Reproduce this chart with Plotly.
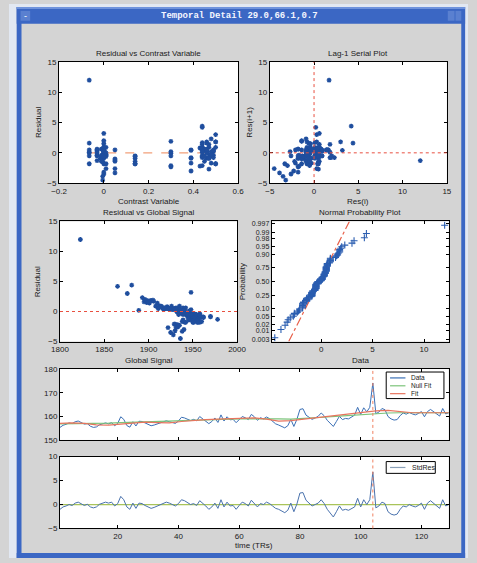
import numpy as np
import plotly.graph_objects as go
from statistics import NormalDist

# ---------------- data ----------------
t = list(range(1, 130))

std_res = [
    -1.0, -0.5, -0.3, 0.0, -0.2, 0.3, 0.5, 0.2, -0.2, 0.05,
    -0.5, -0.7, -0.5, 0.05, 0.3, 0.5, 0.3, 0.5, -0.3, 0.2,
    1.7, 1.0, -0.5, -1.0, 0.3, -0.8, 0.3, 0.2, -0.2, -0.5,
    -0.8, -0.6, -0.3, -0.05, 0.2, 0.5, 0.3, 0.05, -0.3, 0.2,
    1.0, 0.8, 0.3, 0.0, 0.2, -0.2, 0.8, 0.3, -0.3, -1.0,
    -0.5, 0.3, -0.8, 1.0, -0.5, 0.5, -0.3, -0.2, -1.0, -0.2,
    0.5, 0.2, -0.3, 0.9, 0.3, -0.5, 0.2, 0.0, 0.5, 0.2,
    -0.3, -0.8, -1.0, -1.3, -1.7, -1.2, 0.3, -1.5, 0.1, 2.4,
    2.5, 0.9, 0.3, -0.3, 0.0, 0.3, 1.0, 0.2, -1.0, -1.8,
    -2.6, -1.5, -0.3, -1.2, -1.0, -1.2, -0.8, -0.5, 1.3, -0.5,
    1.0, 0.0, 1.0, 6.8, -0.7, -0.3, 0.5, 0.2, -1.5, -2.0,
    -2.2, -2.0, -1.0, -0.3, -0.5, 0.0, -0.3, -0.5, -0.2, 0.3,
    -1.0, 0.3, 0.8, 0.3, -0.3, -0.8, 1.0, -0.3, 0.0]

residual = [
    -1.8, -0.9, -0.5, 0.1, -0.4, 0.6, 0.9, 0.3, -0.4, 0.1,
    -0.9, -1.2, -0.9, 0.2, 0.5, 0.8, 0.6, 0.9, -0.5, 0.3,
    3.0, 1.8, -0.8, -1.8, 0.6, -1.4, 0.5, 0.4, -0.3, -0.9,
    -1.4, -1.0, -0.6, -0.1, 0.4, 0.8, 0.6, 0.1, -0.5, 0.3,
    1.8, 1.4, 0.5, 0.0, 0.3, -0.4, 1.5, 0.5, -0.6, -1.8,
    -0.9, 0.5, -1.4, 1.9, -0.8, 0.9, -0.5, -0.3, -1.7, -0.4,
    0.9, 0.4, -0.6, 1.6, 0.5, -0.9, 0.3, 0.1, 0.9, 0.4,
    -0.5, -1.4, -1.8, -2.3, -3.0, -2.1, 0.5, -2.7, 0.2, 4.2,
    4.4, 1.6, 0.5, -0.5, 0.0, 0.6, 3.2, 0.4, -1.8, -3.2,
    -4.5, -2.6, -0.5, -2.1, -1.7, -2.2, -1.4, -0.9, 2.3, -0.8,
    1.8, 0.1, 1.7, 12.0, -1.3, -0.5, 0.9, 0.3, -2.6, -3.5,
    -3.9, -3.3, -1.8, -0.5, -0.9, 0.1, -0.6, -0.9, -0.3, 0.5,
    -1.8, 0.6, 1.4, 0.5, -0.5, -1.4, 2.0, -0.5, 0.0]

contrast = [
    0.50, 0.46, 0.44, -0.065, -0.03, -0.01, 0.0, 0.0, 0.01, 0.0, -0.005,
    0.05, 0.14, 0.30, 0.39, 0.44, 0.45, 0.47, 0.48, 0.49, 0.50,
    0.46, 0.44, -0.065, -0.03, -0.01, 0.0, 0.0, 0.01, 0.0, -0.005,
    0.05, 0.14, 0.30, 0.39, 0.43, 0.45, 0.46, 0.48, 0.49, 0.50,
    0.47, 0.44, -0.065, -0.03, -0.01, 0.0, 0.0, 0.01, 0.0, -0.005,
    0.05, 0.14, 0.30, 0.39, 0.44, 0.45, 0.47, 0.48, 0.49, 0.50,
    0.46, 0.44, -0.065, -0.03, -0.015, 0.0, 0.0, 0.01, 0.0, -0.005,
    0.05, 0.14, 0.30, 0.39, 0.44, 0.45, 0.47, 0.48, 0.44, 0.44,
    0.46, 0.44, -0.065, -0.03, -0.01, 0.0, 0.0, 0.01, 0.0, -0.005,
    0.05, 0.14, 0.30, 0.39, 0.43, 0.45, 0.47, 0.48, 0.49, 0.50,
    0.46, 0.44, -0.065, -0.03, -0.01, 0.0, 0.0, 0.01, 0.0, -0.005,
    0.05, 0.14, 0.30, 0.39, 0.44, 0.45, 0.47, 0.48, 0.49, 0.50,
    0.46, 0.44, -0.065, -0.03, -0.01, 0.0, 0.0, 0.01]

global_signal = [
    1950, 1956, 1945, 1938, 1952, 1942, 1935, 1948, 1958, 1946,
    1960, 1953, 1944, 1937, 1929, 1921, 1933, 1926, 1947, 1940,
    1876, 1903, 1955, 1958, 1931, 1949, 1924, 1918, 1943, 1951,
    1957, 1962, 1946, 1934, 1927, 1915, 1939, 1941, 1950, 1936,
    1902, 1910, 1925, 1932, 1929, 1944, 1898, 1922, 1947, 1955,
    1948, 1917, 1953, 1905, 1949, 1913, 1942, 1937, 1960, 1943,
    1912, 1928, 1945, 1900, 1923, 1952, 1931, 1938, 1908, 1926,
    1939, 1946, 1951, 1935, 1940, 1930, 1919, 1922, 1889, 1865,
    1881, 1895, 1916, 1934, 1937, 1920, 1948, 1927, 1941, 1930,
    1936, 1933, 1944, 1929, 1938, 1933, 1945, 1957, 1893, 1970,
    1899, 1940, 1906, 1823, 1978, 1947, 1914, 1924, 1931, 1925,
    1928, 1938, 1942, 1954, 1970, 1939, 1958, 1962, 1950, 1921,
    1956, 1918, 1901, 1911, 1945, 1939, 1896, 1948, 1932]

data_signal = [
    155.3, 156.2, 156.6, 157.2, 156.9, 157.7, 158.0, 157.4, 156.7, 156.9,
    155.8, 155.3, 155.5, 156.4, 156.9, 157.2, 156.8, 157.3, 156.0, 157.0,
    159.8, 158.7, 156.1, 155.4, 157.7, 155.9, 157.9, 157.8, 157.2, 156.6,
    156.0, 156.3, 156.8, 157.3, 157.6, 158.1, 157.7, 157.4, 157.0, 158.0,
    159.6, 159.3, 158.6, 158.2, 158.7, 158.1, 159.9, 159.0, 158.1, 156.9,
    157.8, 159.3, 157.4, 160.6, 158.0, 159.8, 158.5, 158.7, 157.3, 158.7,
    159.9, 159.4, 158.6, 160.8, 159.8, 158.3, 159.4, 158.9, 159.7, 159.0,
    157.9, 156.8, 156.3, 155.8, 155.1, 156.0, 158.7, 155.7, 158.7, 162.9,
    163.2, 160.5, 159.6, 158.7, 159.3, 160.0, 161.4, 160.2, 158.3, 156.9,
    155.7, 157.8, 160.0, 158.6, 159.1, 158.9, 159.8, 160.5, 163.8, 160.8,
    163.6, 161.9, 163.8, 174.1, 161.1, 161.8, 163.3, 162.8, 159.9, 158.9,
    158.4, 158.6, 160.3, 161.4, 160.9, 161.6, 161.0, 160.6, 161.2, 162.0,
    159.8, 162.0, 162.9, 162.0, 161.0, 160.1, 163.3, 161.0, 161.5]

fit_t = [1, 5, 9, 13, 17, 21, 25, 29, 33, 37, 41, 45, 49, 53, 57, 61, 65,
         69, 73, 77, 81, 85, 89, 93, 97, 101, 105, 109, 113, 117, 121, 125, 129]
fit = [157.0, 157.2, 157.0, 156.4, 156.3, 156.8, 157.2, 157.5, 157.3, 157.2,
       157.8, 158.3, 158.6, 158.8, 159.0, 159.0, 159.3, 158.8, 158.0, 158.2,
       158.8, 159.3, 160.0, 160.5, 161.2, 161.8, 162.3, 162.5, 162.0, 161.5,
       161.5, 161.5, 161.5]
null_fit = [156.8, 156.8, 156.9, 157.0, 157.1, 157.3, 157.5, 157.7, 157.8, 157.9,
            158.1, 158.3, 158.5, 158.7, 158.8, 158.9, 159.0, 159.0, 158.9, 158.8,
            159.0, 159.3, 159.7, 160.1, 160.5, 160.9, 161.2, 161.4, 161.5, 161.5,
            161.5, 161.5, 161.5]

event_t = 104
prob_ticks = [0.003, 0.01, 0.02, 0.05, 0.10, 0.25, 0.50, 0.75, 0.90, 0.95, 0.98, 0.99, 0.997]
prob_labels = ["0.003", "0.01", "0.02", "0.05", "0.10", "0.25", "0.50",
               "0.75", "0.90", "0.95", "0.98", "0.99", "0.997"]

# ---------------- helpers ----------------
W, H = 477, 563
def px(x): return x / W
def py(y): return 1 - y / H

FONT = "Liberation Sans, Arial, sans-serif"
MARK = "#1f4e9e"
C_DATA, C_NULL, C_FIT, C_STD = "#3a6fb5", "#7cc47a", "#e8745e", "#4a72ad"
nd = NormalDist()

fig = go.Figure()
star = dict(symbol="asterisk-open", size=4, color=MARK, line=dict(color=MARK, width=1.3))

# 1: residual vs contrast
fig.add_trace(go.Scatter(x=[min(contrast), max(contrast)], y=[0, 0], mode="lines",
                         xaxis="x", yaxis="y", line=dict(color="#f2a07a", width=1.2, dash="dash"),
                         showlegend=False))
fig.add_trace(go.Scatter(x=contrast, y=residual, mode="markers", xaxis="x", yaxis="y",
                         marker=star, showlegend=False))
# 2: lag-1
fig.add_trace(go.Scatter(x=residual[:-1], y=residual[1:], mode="markers", xaxis="x2", yaxis="y2",
                         marker=star, showlegend=False))
# 3: residual vs global
fig.add_trace(go.Scatter(x=global_signal, y=residual, mode="markers", xaxis="x3", yaxis="y3",
                         marker=star, showlegend=False))
# 4: normal probability
n = len(residual)
sres = sorted(residual)
zpos = [nd.inv_cdf((i + 0.5) / n) for i in range(n)]
q1, q3 = np.percentile(residual, [25, 75])
z1, z3 = nd.inv_cdf(0.25), nd.inv_cdf(0.75)
slope = (z3 - z1) / (q3 - q1)
zr = [-2.84, 2.84]
fig.add_trace(go.Scatter(x=[q1 + (z - z1) / slope for z in zr], y=zr, mode="lines",
                         xaxis="x4", yaxis="y4", line=dict(color="#e8604a", width=1.2, dash="dashdot"),
                         showlegend=False))
fig.add_trace(go.Scatter(x=sres, y=zpos, mode="markers", xaxis="x4", yaxis="y4",
                         marker=dict(symbol="cross-thin-open", size=5, color="#2a5db0",
                                     line=dict(color="#2a5db0", width=1.1)), showlegend=False))
# 5: time series
fig.add_trace(go.Scatter(x=t, y=data_signal, mode="lines", name="Data", xaxis="x5", yaxis="y5",
                         line=dict(color=C_DATA, width=1), showlegend=False))
fig.add_trace(go.Scatter(x=fit_t, y=null_fit, mode="lines", name="Null Fit", xaxis="x5", yaxis="y5",
                         line=dict(color=C_NULL, width=1.2), showlegend=False))
fig.add_trace(go.Scatter(x=fit_t, y=fit, mode="lines", name="Fit", xaxis="x5", yaxis="y5",
                         line=dict(color=C_FIT, width=1.2), showlegend=False))
# 6: std residuals
fig.add_trace(go.Scatter(x=[t[0], t[-1]], y=[0, 0], mode="lines", xaxis="x6", yaxis="y6",
                         line=dict(color="#a9c45a", width=1.2), showlegend=False))
fig.add_trace(go.Scatter(x=t, y=std_res, mode="lines", name="StdRes", xaxis="x6", yaxis="y6",
                         line=dict(color=C_STD, width=1), showlegend=False))

def axis(dom, rng, anchor, dtick=None, tickvals=None, ticktext=None, labels=True, fsize=8):
    d = dict(domain=dom, range=rng, anchor=anchor, showline=True, linecolor="black",
             linewidth=1, mirror="ticks", ticks="inside", ticklen=3, tickcolor="black",
             showgrid=False, zeroline=False, showticklabels=labels,
             tickfont=dict(family=FONT, size=fsize, color="#202020"))
    if dtick is not None:
        d["dtick"] = dtick
        d["tick0"] = 0
    if tickvals is not None:
        d["tickmode"] = "array"
        d["tickvals"] = tickvals
        d["ticktext"] = ticktext
    return d

d1x, d1y = [px(52), px(238)], [py(182), py(59)]
d2x = [px(271), px(455)]
d3x, d3y = [px(53), px(237)], [py(343), py(221)]
d4x = [px(273), px(457)]
d5x, d5y = [px(53), px(457)], [py(443), py(371)]
d6y = [py(533), py(460)]

fig.update_layout(
    width=W, height=H, margin=dict(l=0, r=0, t=0, b=0),
    paper_bgcolor="#d4d4d4", plot_bgcolor="white",
    font=dict(family=FONT, size=8, color="#202020"),
    showlegend=False,
    xaxis=axis(d1x, [-0.2, 0.6], "y", dtick=0.2),
    yaxis=axis(d1y, [-5, 15], "x", dtick=5),
    xaxis2=axis(d2x, [-5, 15], "y2", dtick=5),
    yaxis2=axis(d1y, [-5, 15], "x2", dtick=5),
    xaxis3=axis(d3x, [1800, 2000], "y3", dtick=50),
    yaxis3=axis(d3y, [-5, 15], "x3", dtick=5),
    xaxis4=axis(d4x, [-4.8, 12.4], "y4", dtick=5),
    yaxis4=axis(d3y, zr, "x4", tickvals=[nd.inv_cdf(p) for p in prob_ticks],
                ticktext=prob_labels, fsize=7),
    xaxis5=axis(d5x, [1, 129], "y5", tickvals=[20, 40, 60, 80, 100, 120],
                ticktext=["20", "40", "60", "80", "100", "120"], labels=False),
    yaxis5=axis(d5y, [150, 180], "x5", dtick=10),
    xaxis6=axis(d5x, [1, 129], "y6", dtick=20),
    yaxis6=axis(d6y, [-5, 10], "x6", dtick=5),
)

shapes = []
# reference lines
shapes.append(dict(type="line", xref="x2", yref="y2 domain", x0=0, x1=0, y0=0, y1=1,
                   line=dict(color="#e85040", width=1, dash="dot")))
shapes.append(dict(type="line", xref="x2 domain", yref="y2", x0=0, x1=1, y0=0, y1=0,
                   line=dict(color="#e85040", width=1, dash="dot")))
shapes.append(dict(type="line", xref="x3 domain", yref="y3", x0=0, x1=1, y0=0, y1=0,
                   line=dict(color="#e85040", width=1, dash="dot")))
for ax in ("5", "6"):
    shapes.append(dict(type="line", xref="x" + ax, yref="y" + ax + " domain", x0=event_t,
                       x1=event_t, y0=0, y1=1, line=dict(color="#f08060", width=1, dash="dot")))

# window frame
def rect(x0, y0, x1, y1, color, layer="below", border=None):
    return dict(type="rect", xref="paper", yref="paper", x0=px(x0), x1=px(x1),
                y0=py(y1), y1=py(y0), fillcolor=color,
                line=dict(width=0) if border is None else dict(width=1, color=border),
                layer=layer)
shapes += [
    rect(0, 0, 8, 563, "#e2e8f2"),
    rect(474, 0, 477, 563, "#e2e8f2"),
    rect(0, 0, 477, 3, "#e2e8f2"),
    rect(8, 3, 13, 563, "#3b67c4"),
    rect(470, 3, 474, 563, "#3b67c4"),
    rect(8, 3, 474, 20, "#3b67c4"),
    rect(8, 3, 474, 5, "#6f93dc"),
    rect(8, 558, 474, 563, "#3b67c4"),
    rect(12, 7, 22, 17, "#5a80d0"),
    rect(456, 7, 463, 17, "#5a80d0"),
    rect(464, 7, 470, 17, "#5a80d0"),
]

# custom legends (MATLAB style)
def seg(x0, x1, y, color):
    return dict(type="line", xref="paper", yref="paper", x0=px(x0), x1=px(x1),
                y0=py(y), y1=py(y), line=dict(color=color, width=1.2), layer="above")
shapes += [
    rect(392, 374, 452, 401, "white", layer="above", border="black"),
    seg(396, 412, 380, C_DATA), seg(396, 412, 388, C_NULL), seg(396, 412, 396, C_FIT),
    rect(392, 465, 443, 477, "white", layer="above", border="black"),
    seg(396, 412, 471, "#8aa0b8"),
]
fig.update_layout(shapes=shapes)

ann = []
def text(x, y, s, size=8, angle=0, color="#202020", family=FONT, xanchor="center"):
    ann.append(dict(xref="paper", yref="paper", x=px(x), y=py(y), text=s, showarrow=False,
                    xanchor=xanchor, yanchor="middle", textangle=angle,
                    font=dict(family=family, size=size, color=color)))
text(240, 12, "<b>Temporal Detail 29.0,66.1,0.7</b>", size=9, color="#f4f6ff",
     family="Liberation Mono, DejaVu Sans Mono, monospace")
text(17, 12, "-", size=9, color="white")
text(145, 50, "Residual vs Contrast Variable")
text(363, 50, "Lag-1 Serial Plot")
text(145, 201, "Contrast Variable")
text(363, 201, "Res(i)")
text(30, 120, "Residual", angle=-90)
text(250, 120, "Res(i+1)", angle=-90)
text(145, 212, "Residual vs Global Signal")
text(365, 212, "Normal Probability Plot")
text(30, 282, "Residual", angle=-90)
text(243, 282, "Probability", angle=-90)
text(145, 362, "Global Signal")
text(365, 362, "Data")
text(255, 550, "time (TRs)")
text(416, 380, "Data", size=6.5, xanchor="left")
text(416, 388, "Null Fit", size=6.5, xanchor="left")
text(416, 396, "Fit", size=6.5, xanchor="left")
text(417, 471, "StdRes", size=7, xanchor="left")
fig.update_layout(annotations=ann)

fig.write_html("out.html", config={"displayModeBar": False},
               post_script="document.body.style.margin='0';document.body.style.overflow='hidden';")
